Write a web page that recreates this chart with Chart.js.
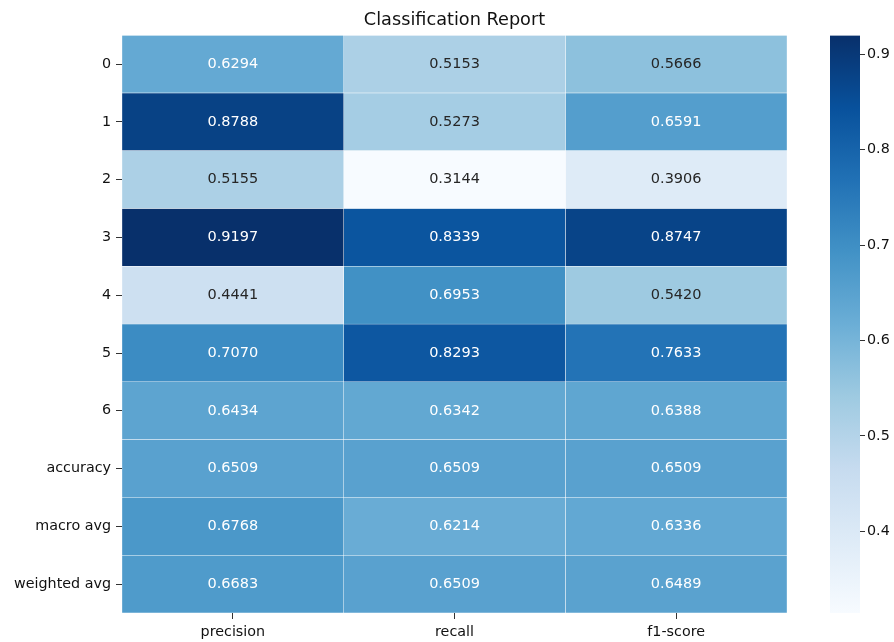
<!DOCTYPE html>
<html>
<head>
<meta charset="utf-8">
<script src="https://cdn.jsdelivr.net/npm/chart.js@4"></script>
<style>
  html, body { margin: 0; padding: 0; background: #fff; }
  #wrap { position: relative; width: 894px; height: 642px; }
  #main { position: absolute; left: 0; top: 0; width: 894px; height: 642px; }
  #cbar { position: absolute; left: 830px; top: 25px; width: 64px; height: 600px; }
</style>
</head>
<body>
<div id="wrap">
  <div id="main"><canvas id="heat"></canvas></div>
  <div id="cbar"><canvas id="bar"></canvas></div>
</div>
<script>
const rowLabels = ["0", "1", "2", "3", "4", "5", "6", "accuracy", "macro avg", "weighted avg"];
const colLabels = ["precision", "recall", "f1-score"];
const precision = [0.6294, 0.8788, 0.5155, 0.9197, 0.4441, 0.7070, 0.6434, 0.6509, 0.6768, 0.6683];
const recall = [0.5153, 0.5273, 0.3144, 0.8339, 0.6953, 0.8293, 0.6342, 0.6509, 0.6214, 0.6509];
const f1Score = [0.5666, 0.6591, 0.3906, 0.8747, 0.5420, 0.7633, 0.6388, 0.6509, 0.6336, 0.6489];
const colorbarTicks = [0.4, 0.5, 0.6, 0.7, 0.8, 0.9];

const columns = [precision, recall, f1Score];
const allValues = [...precision, ...recall, ...f1Score];
const vmin = Math.min(...allValues);
const vmax = Math.max(...allValues);

// matplotlib "Blues"
const blues = ["#f7fbff", "#deebf7", "#c6dbef", "#9ecae1", "#6baed6", "#4292c6", "#2171b5", "#08519c", "#08306b"];
const hexRgb = (h) => [1, 3, 5].map((i) => parseInt(h.slice(i, i + 2), 16));

function bluesRgb(v) {
  let t = (v - vmin) / (vmax - vmin);
  t = Math.max(0, Math.min(1, t));
  const pos = t * (blues.length - 1);
  const i = Math.min(Math.floor(pos), blues.length - 2);
  const f = pos - i;
  const a = hexRgb(blues[i]);
  const b = hexRgb(blues[i + 1]);
  return a.map((c, k) => Math.round(c + (b[k] - c) * f));
}
const rgbStr = (c) => `rgb(${c[0]}, ${c[1]}, ${c[2]})`;

function luminance(c) {
  const lin = c.map((x) => {
    x /= 255;
    return x <= 0.03928 ? x / 12.92 : Math.pow((x + 0.055) / 1.055, 2.4);
  });
  return 0.2126 * lin[0] + 0.7152 * lin[1] + 0.0722 * lin[2];
}

const font = "'DejaVu Sans', sans-serif";

const datasets = columns.map((vals, c) => ({
  label: colLabels[c],
  data: vals.map((v, r) => ({ x: [c, c + 1], y: rowLabels[r], v })),
  backgroundColor: vals.map((v) => rgbStr(bluesRgb(v))),
  borderColor: "#ffffff",
  borderWidth: 0.5,
  borderSkipped: false,
  grouped: false,
  barPercentage: 1,
  categoryPercentage: 1,
}));

// cell annotations
const annotatePlugin = {
  id: "annotate",
  afterDatasetsDraw(chart) {
    const ctx = chart.ctx;
    ctx.save();
    ctx.font = `14.5px ${font}`;
    ctx.textAlign = "center";
    ctx.textBaseline = "middle";
    chart.data.datasets.forEach((ds, i) => {
      chart.getDatasetMeta(i).data.forEach((el, j) => {
        const v = ds.data[j].v;
        const p = el.getCenterPoint();
        ctx.fillStyle = luminance(bluesRgb(v)) > 0.408 ? "#262626" : "#ffffff";
        ctx.fillText(v.toFixed(4), p.x, p.y);
      });
    });
    ctx.restore();
  },
};

new Chart(document.getElementById("heat"), {
  type: "bar",
  data: { labels: rowLabels, datasets },
  options: {
    indexAxis: "y",
    responsive: true,
    maintainAspectRatio: false,
    animation: false,
    events: [],
    layout: { padding: { left: 0, right: 107, top: 0, bottom: 0 } },
    scales: {
      x: {
        type: "linear",
        min: 0,
        max: 3,
        afterBuildTicks: (axis) => {
          axis.ticks = colLabels.map((_, i) => ({ value: i + 0.5 }));
        },
        afterFit: (axis) => { axis.height = 29; },
        ticks: {
          callback: (value) => colLabels[Math.floor(value)],
          font: { family: font, size: 14.3 },
          color: "#111",
          padding: 5,
          maxRotation: 0,
        },
        grid: { drawOnChartArea: false, drawTicks: true, tickLength: 6, color: "#333" },
        border: { display: false },
      },
      y: {
        type: "category",
        afterFit: (axis) => { axis.width = 122; },
        ticks: {
          font: { family: font, size: 14.3 },
          color: "#111",
          padding: 5,
        },
        grid: { offset: false, drawOnChartArea: false, drawTicks: true, tickLength: 6, color: "#333" },
        border: { display: false },
      },
    },
    plugins: {
      legend: { display: false },
      tooltip: { enabled: false },
      title: {
        display: true,
        text: "Classification Report",
        fullSize: false,
        color: "#111",
        font: { family: font, size: 17.7, weight: "normal" },
        padding: { top: 10, bottom: 4 },
      },
    },
  },
  plugins: [annotatePlugin],
});

// colorbar
new Chart(document.getElementById("bar"), {
  type: "bar",
  data: {
    labels: [""],
    datasets: [{
      data: [[vmin, vmax]],
      backgroundColor: (context) => {
        const area = context.chart.chartArea;
        if (!area) return blues[4];
        const g = context.chart.ctx.createLinearGradient(0, area.bottom, 0, area.top);
        blues.forEach((c, i) => g.addColorStop(i / (blues.length - 1), c));
        return g;
      },
      borderWidth: 0,
      barPercentage: 1,
      categoryPercentage: 1,
    }],
  },
  options: {
    responsive: true,
    maintainAspectRatio: false,
    animation: false,
    events: [],
    layout: { padding: { left: 0, right: 0, top: 10, bottom: 12 } },
    scales: {
      x: { display: false },
      y: {
        position: "right",
        min: vmin,
        max: vmax,
        afterBuildTicks: (axis) => {
          axis.ticks = colorbarTicks.map((v) => ({ value: v }));
        },
        afterFit: (axis) => { axis.width = 34; },
        ticks: {
          callback: (value) => value.toFixed(1),
          font: { family: font, size: 14.3 },
          color: "#111",
          padding: 2,
        },
        grid: { drawOnChartArea: false, drawTicks: true, tickLength: 5, color: "#333" },
        border: { display: false },
      },
    },
    plugins: {
      legend: { display: false },
      tooltip: { enabled: false },
    },
  },
});
</script>
</body>
</html>
